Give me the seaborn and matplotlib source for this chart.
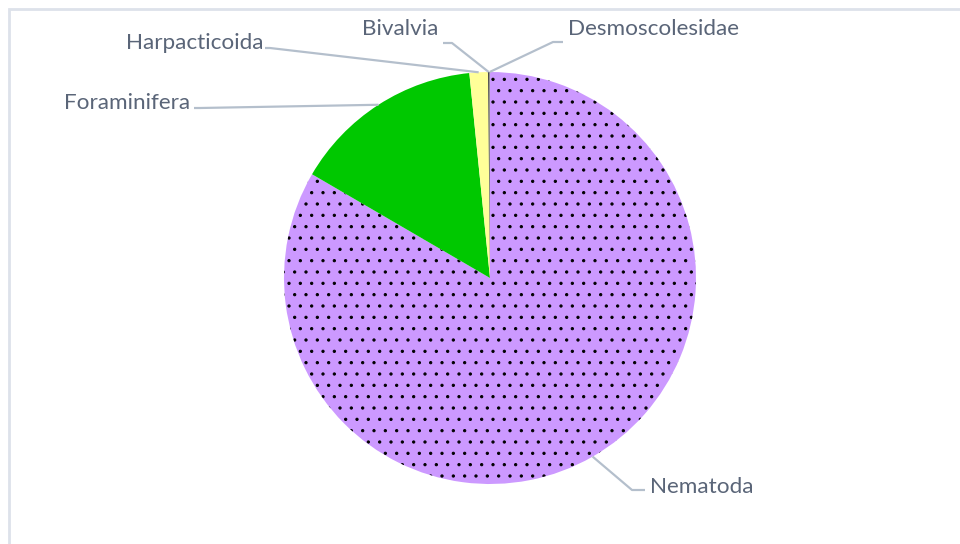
import matplotlib
matplotlib.use("Agg")
import matplotlib.pyplot as plt
from matplotlib.patches import Rectangle
import numpy as np
import seaborn as sns

# Share of each taxon in the meiofauna sample (%)
taxa = ["Nematoda", "Foraminifera", "Harpacticoida", "Bivalvia", "Desmoscolesidae"]
shares = [83.4, 15.0, 1.45, 0.1, 0.05]
colors = ["#CC99FF", "#00C800", "#FFFF99", "#3A3A3A", "#7F7F7F"]

# a lower dpi makes the dotted hatch a little sparser
DPI = 68
W, H = 960, 544


def pt(px):
    """Convert a size in pixels to points at the chosen dpi."""
    return px * 72.0 / DPI


sns.set_theme(style="white")
plt.rcParams["font.family"] = ["Lato", "DejaVu Sans"]
plt.rcParams["hatch.color"] = "black"
plt.rcParams["hatch.linewidth"] = pt(1.0)

fig = plt.figure(figsize=(W / DPI, H / DPI), dpi=DPI)
ax = fig.add_axes([0, 0, 1, 1])

cx, cy, r = 490, H - 278, 206
wedges, _ = ax.pie(shares, colors=colors, startangle=90, counterclock=False,
                   center=(cx, cy), radius=r, frame=True,
                   wedgeprops=dict(linewidth=0))
# dotted fill for the dominant group
wedges[0].set_edgecolor("#000000")
wedges[0].set_linewidth(0)
wedges[0].set_hatch(".")
ax.set_xlim(0, W)
ax.set_ylim(0, H)
ax.set_aspect("equal")
ax.axis("off")

# label text anchor (x, y in px from top), alignment, elbow point, line end
label_layout = {
    "Nematoda":        ((650, 487), "left",  (632, 490), (645, 490)),
    "Foraminifera":    ((190, 103), "right", (200, 108), (194, 108)),
    "Harpacticoida":   ((263, 43),  "right", (270, 48),  (265, 48)),
    "Bivalvia":        ((438, 29),  "right", (452, 43),  (443, 43)),
    "Desmoscolesidae": ((568, 29),  "left",  (553, 42),  (563, 42)),
}

line_color = "#B4BFCC"
text_color = "#5A6578"
for w, name in zip(wedges, taxa):
    mid = np.deg2rad((w.theta1 + w.theta2) / 2)
    px, py = cx + r * np.cos(mid), cy + r * np.sin(mid)
    (tx, ty), ha, (ex, ey), (lx, ly) = label_layout[name]
    ax.plot([px, ex, lx], [py, H - ey, H - ly], color=line_color,
            lw=pt(2.2), solid_capstyle="butt", zorder=1)
    ax.text(tx, H - ty, name, ha=ha, va="center", color=text_color,
            fontsize=pt(22.5))

# chart area border
fig.patches.append(Rectangle((9 / W, -0.1), 1.2, (H - 9) / H + 0.1,
                             transform=fig.transFigure, fill=False,
                             edgecolor="#DDE2EA", linewidth=pt(2.8)))

fig.savefig("out.png", dpi=DPI, facecolor="white")
